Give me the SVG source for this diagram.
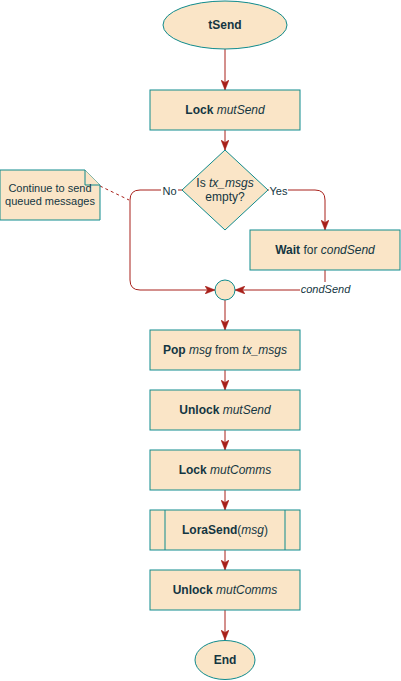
<svg xmlns="http://www.w3.org/2000/svg" width="401" height="681" viewBox="0 0 401 681">
<style>
.n{fill:#FAE5C7;stroke:#0F8B8D;stroke-width:1}
.t{font-family:"Liberation Sans",Arial,sans-serif;font-size:12px;fill:#143642;text-anchor:middle}
.s{font-size:11px}
.b{font-weight:bold}
.i{font-style:italic}
.e{fill:none;stroke:#A8201A;stroke-width:1}
.lb{fill:#ffffff}
</style>
<defs>
<marker id="a" viewBox="0 0 10 8" refX="10" refY="4" markerWidth="10" markerHeight="8" markerUnits="userSpaceOnUse" orient="auto">
<path d="M0,0 L10,4 L0,8 L2.5,4 z" fill="#A8201A" stroke="#A8201A" stroke-width="0.5"/>
</marker>
</defs>
<rect width="401" height="681" fill="#ffffff"/>
<g id="connectors">
<path class="e" d="M225,49 V90" marker-end="url(#a)"/>
<path class="e" d="M225,130 V150" marker-end="url(#a)"/>
<path class="e" d="M182,190 H140 Q130,190 130,200 V280 Q130,290 140,290 H215" marker-end="url(#a)"/>
<path class="e" d="M268,190 H315 Q325,190 325,200 V230" marker-end="url(#a)"/>
<path class="e" d="M325,270 V290 H235" marker-end="url(#a)"/>
<path class="e" d="M225,300 V330" marker-end="url(#a)"/>
<path class="e" d="M225,370 V390" marker-end="url(#a)"/>
<path class="e" d="M225,430 V450" marker-end="url(#a)"/>
<path class="e" d="M225,490 V510" marker-end="url(#a)"/>
<path class="e" d="M225,550 V570" marker-end="url(#a)"/>
<path class="e" d="M225,610 V640" marker-end="url(#a)"/>
<path class="e" d="M100,186 L129,200" stroke-dasharray="3 3"/>
<rect class="lb" x="161" y="183" width="17" height="14"/>
<text class="t s" x="169.5" y="194.5">No</text>
<rect class="lb" x="269" y="183" width="19" height="14"/>
<text class="t s" x="278.5" y="194.5">Yes</text>
<rect class="lb" x="300" y="282" width="51" height="15"/>
<text class="t s i" x="325.5" y="293">condSend</text>
</g>
<g id="tSend">
<ellipse class="n" cx="225" cy="25" rx="62" ry="24"/>
<text class="t b" x="225" y="29">tSend</text>
</g>
<g id="lockSend">
<rect class="n" x="150" y="90" width="150" height="40"/>
<text class="t" x="225" y="114"><tspan class="b">Lock</tspan> <tspan class="i">mutSend</tspan></text>
</g>
<g id="isEmpty">
<polygon class="n" points="225,150 268,190 225,230 182,190"/>
<text class="t" x="225" y="186.5">Is <tspan class="i">tx_msgs</tspan></text>
<text class="t" x="225" y="201">empty?</text>
</g>
<g id="note">
<path class="n" d="M0,170 H85 L100,185 V220 H0 Z"/>
<path class="n" d="M85,170 V185 H100"/>
<text class="t s" x="50" y="192">Continue to send</text>
<text class="t s" x="50" y="205">queued messages</text>
</g>
<g id="wait">
<rect class="n" x="250" y="230" width="150" height="40"/>
<text class="t" x="325" y="254"><tspan class="b">Wait</tspan> for <tspan class="i">condSend</tspan></text>
</g>
<g id="join">
<circle class="n" cx="225" cy="290" r="10"/>
</g>
<g id="pop">
<rect class="n" x="150" y="330" width="150" height="40"/>
<text class="t" x="225" y="354"><tspan class="b">Pop</tspan> <tspan class="i">msg</tspan> from <tspan class="i">tx_msgs</tspan></text>
</g>
<g id="unlockSend">
<rect class="n" x="150" y="390" width="150" height="40"/>
<text class="t" x="225" y="414"><tspan class="b">Unlock</tspan> <tspan class="i">mutSend</tspan></text>
</g>
<g id="lockComms">
<rect class="n" x="150" y="450" width="150" height="40"/>
<text class="t" x="225" y="474"><tspan class="b">Lock</tspan> <tspan class="i">mutComms</tspan></text>
</g>
<g id="loraSend">
<rect class="n" x="150" y="510" width="150" height="40"/>
<path class="n" d="M165,510 V550 M285,510 V550"/>
<text class="t" x="225" y="534"><tspan class="b">LoraSend</tspan>(<tspan class="i">msg</tspan>)</text>
</g>
<g id="unlockComms">
<rect class="n" x="150" y="570" width="150" height="40"/>
<text class="t" x="225" y="594"><tspan class="b">Unlock</tspan> <tspan class="i">mutComms</tspan></text>
</g>
<g id="end">
<ellipse class="n" cx="225" cy="660" rx="30" ry="19.5"/>
<text class="t b" x="225" y="664">End</text>
</g>
</svg>
